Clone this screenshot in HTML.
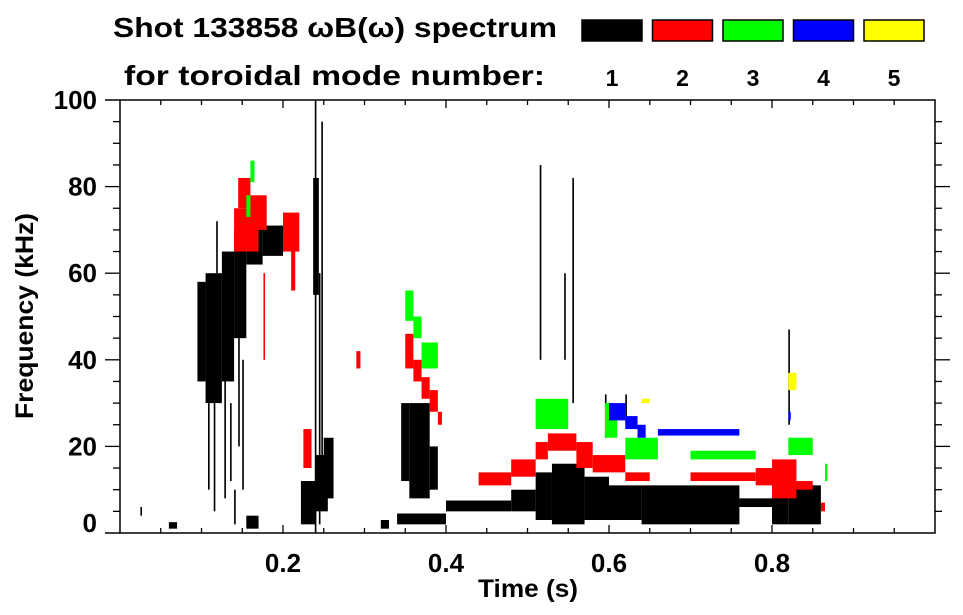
<!DOCTYPE html>
<html><head><meta charset="utf-8"><style>
html,body{margin:0;padding:0;background:#fff;}
svg{display:block;font-family:"Liberation Sans",Arial,sans-serif;font-weight:bold;}
</style></head><body>
<svg id="chart" width="963" height="615" viewBox="0 0 963 615">
  <g>
    <text x="113" y="37" font-size="28" textLength="444" lengthAdjust="spacingAndGlyphs">Shot 133858 ωB(ω) spectrum</text>
    <text x="124" y="85" font-size="28" textLength="421" lengthAdjust="spacingAndGlyphs">for toroidal mode number:</text>
  </g>
  <g id="legend"></g>
  <g id="marks"></g>
  <g id="axes"></g>
  <text x="528" y="597" font-size="25" text-anchor="middle" textLength="100" lengthAdjust="spacingAndGlyphs">Time (s)</text>
  <text transform="translate(33,316) rotate(-90)" font-size="25" text-anchor="middle" textLength="206" lengthAdjust="spacingAndGlyphs">Frequency (kHz)</text>
</svg>
<script>
const modeColors = ["#000000","#ff0000","#00ff00","#0000ff","#ffff00"];
const modeLabels = ["1","2","3","4","5"];
const xTickLabels = ["0.2","0.4","0.6","0.8"];
const xTickValues = [0.2,0.4,0.6,0.8];
const yTickValues = [0,20,40,60,80,100];
// Each entry: [tStart, tEnd, fLow, fHigh]
const mode1 = [
 [0.095,0.105,35,58],[0.105,0.125,30,60],[0.125,0.14,35,65],[0.14,0.155,45,70],
 [0.155,0.175,62,72],[0.175,0.20,64,71],[0.20,0.21,66,70],
 [0.108,0.110,10,30],[0.115,0.117,5,30],[0.128,0.130,8,35],[0.135,0.137,12,30],
 [0.145,0.147,20,45],[0.150,0.152,10,40],[0.140,0.142,2,10],[0.118,0.120,60,72],
 [0.237,0.244,55,82],[0.239,0.241,0,100],[0.247,0.249,10,95],[0.244,0.246,2,60],
 [0.222,0.24,2,12],[0.24,0.255,5,18],[0.25,0.262,8,22],
 [0.345,0.355,12,30],[0.355,0.38,8,30],[0.38,0.39,10,20],
 [0.34,0.40,2,4.5],[0.40,0.48,5,7.5],[0.48,0.51,5,10],[0.51,0.53,3,14],
 [0.53,0.57,2,16],[0.57,0.60,3,13],[0.60,0.64,3,11],[0.64,0.76,2,11],
 [0.76,0.80,6,8],[0.80,0.82,2,13],[0.82,0.86,2,11],
 [0.025,0.027,4,6],[0.06,0.07,1,2.5],[0.155,0.17,1,4],[0.32,0.33,1,3],
 [0.515,0.517,40,85],[0.555,0.557,30,82],[0.545,0.547,40,60],[0.82,0.822,25,47],
 [0.595,0.597,22,32],[0.62,0.622,25,32]
];
const mode2 = [
 [0.14,0.17,65,75],[0.145,0.16,75,82],[0.16,0.18,70,78],[0.2,0.22,65,74],
 [0.21,0.215,56,68],[0.176,0.178,40,60],[0.225,0.235,15,24],
 [0.35,0.36,38,46],[0.36,0.37,35,40],[0.37,0.38,31,36],[0.38,0.39,28,33],[0.39,0.395,25,28],
 [0.29,0.295,38,42],[0.44,0.48,11,14],[0.48,0.51,13,17],[0.51,0.525,17,21],
 [0.525,0.56,19,23],[0.56,0.58,15,21],[0.58,0.62,14,18],[0.62,0.65,12,14],
 [0.70,0.78,12,14],[0.78,0.80,11,15],[0.80,0.83,8,17],[0.83,0.85,10,12],[0.86,0.865,5,7]
];
const mode3 = [
 [0.16,0.165,81,86],[0.155,0.16,73,78],[0.35,0.36,49,56],[0.36,0.37,45,50],
 [0.37,0.39,38,44],[0.51,0.55,24,31],[0.595,0.61,22,30],[0.62,0.66,17,22],
 [0.70,0.78,17,19],[0.82,0.85,18,22],[0.865,0.868,12,16]
];
const mode4 = [
 [0.60,0.62,26,30],[0.62,0.635,24,27],[0.635,0.645,22,25],[0.66,0.76,22.5,24],[0.82,0.823,26,28]
];
const mode5 = [[0.64,0.65,30,31],[0.82,0.83,33,37]];
const modes = [mode1,mode2,mode3,mode4,mode5];

const NS="http://www.w3.org/2000/svg";
const X0=120,X1=935,Y0=533,Y1=100;
function xs(t){return X0+(X1-X0)*t;}
function ys(f){return Y0-(Y0-Y1)*f/100;}
function mk(tag,attrs,parent){const e=document.createElementNS(NS,tag);for(const k in attrs)e.setAttribute(k,attrs[k]);parent.appendChild(e);return e;}

const marks=document.getElementById('marks');
modes.forEach((arr,mi)=>{
  const g=mk('g',{},marks);
  
  
  arr.forEach(d=>{
    const x=xs(d[0]),w=Math.max(1.5,xs(d[1])-xs(d[0]));
    const y=ys(d[3]),h=Math.max(1.5,ys(d[2])-ys(d[3]));
    const r=mk('rect',{x:x,y:y,width:w,height:h,fill:modeColors[mi]},g);
    
    
  });
});

const leg=document.getElementById('legend');
modeColors.forEach((c,i)=>{
  const bx=582+i*70.5;
  const r=mk('rect',{x:bx,y:20,width:60,height:21,fill:c,stroke:'#000','stroke-width':1.5},leg);
  
  
  const t=mk('text',{x:bx+30,y:86,'font-size':23,'text-anchor':'middle'},leg);
  t.textContent=modeLabels[i];
  
  
});

const ax=document.getElementById('axes');
mk('rect',{x:X0,y:Y1,width:X1-X0,height:Y0-Y1,fill:'none',stroke:'#000','stroke-width':1.5},ax);
mk('line',{x1:105,y1:Y0,x2:X0,y2:Y0,stroke:'#000','stroke-width':1.5},ax);
mk('line',{x1:105,y1:Y1,x2:X0,y2:Y1,stroke:'#000','stroke-width':1.5},ax);
for(let k=1;k<20;k++){
  const t=k*0.05, major=(k%4===0);
  const x=xs(t), L=major?8:5;
  mk('line',{x1:x,y1:Y0,x2:x,y2:Y0-L,stroke:'#000','stroke-width':1.3},ax);
  mk('line',{x1:x,y1:Y1,x2:x,y2:Y1+L,stroke:'#000','stroke-width':1.3},ax);
}
for(let k=1;k<20;k++){
  const f=k*5, major=(k%4===0);
  const y=ys(f);
  mk('line',{x1:X0-(major?15:7),y1:y,x2:X0,y2:y,stroke:'#000','stroke-width':1.3},ax);
  mk('line',{x1:X1,y1:y,x2:X1+(major?15:7),y2:y,stroke:'#000','stroke-width':1.3},ax);
}
xTickValues.forEach((v,i)=>{
  const t=mk('text',{x:xs(v),y:572,'font-size':26,'text-anchor':'middle'},ax);
  t.textContent=xTickLabels[i];
  
  
});
yTickValues.forEach(v=>{
  const yy=v===0?ys(v)-1:ys(v)+9;
  const t=mk('text',{x:97,y:yy,'font-size':26,'text-anchor':'end'},ax);
  t.textContent=String(v);
  
  
});
</script>
</body></html>
